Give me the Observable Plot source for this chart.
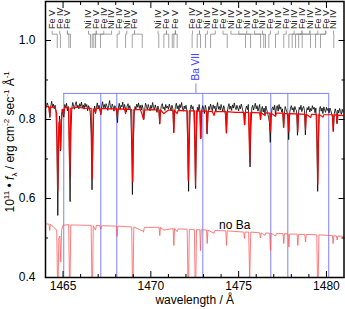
<!DOCTYPE html>
<html><head><meta charset="utf-8">
<script src="https://cdn.jsdelivr.net/npm/d3@7"></script>
<script src="https://cdn.jsdelivr.net/npm/@observablehq/plot@0.6"></script>
<style>body{margin:0;background:#fff} svg{display:block}</style>
</head><body><div id="chart"></div>
<script>
// observed spectrum, sampled every 0.05 Å from 1464.00 Å
const obsStart = 1464.0, obsStep = 0.05;
const obsFlux = [
0.838,0.831,0.842,0.835,0.829,0.805,0.833,0.846,0.832,0.839,0.827,0.836,0.818,0.742,0.557,0.728,0.809,0.720,0.781,0.826,
0.812,0.806,0.838,0.829,0.841,0.822,0.833,0.752,0.592,0.771,0.828,0.843,0.834,0.826,0.839,0.845,0.830,0.836,0.827,0.840,
0.833,0.844,0.829,0.837,0.826,0.841,0.832,0.838,0.822,0.835,0.829,0.817,0.764,0.622,0.748,0.821,0.834,0.815,0.831,0.842,
0.828,0.836,0.824,0.812,0.833,0.845,0.830,0.838,0.827,0.840,0.834,0.823,0.836,0.848,0.831,0.826,0.839,0.833,0.821,0.835,
0.830,0.818,0.792,0.829,0.841,0.826,0.836,0.832,0.844,0.825,0.838,0.829,0.819,0.834,0.840,0.827,0.835,0.822,0.751,0.610,
0.734,0.812,0.833,0.826,0.839,0.831,0.842,0.828,0.836,0.824,0.837,0.829,0.800,0.826,0.841,0.833,0.825,0.838,0.830,0.822,
0.836,0.828,0.843,0.831,0.824,0.837,0.829,0.818,0.834,0.826,0.789,0.821,0.835,0.840,0.827,0.832,0.823,0.838,0.829,0.834,
0.826,0.839,0.831,0.822,0.836,0.828,0.767,0.815,0.833,0.841,0.827,0.835,0.824,0.838,0.830,0.843,0.829,0.821,0.834,0.827,
0.836,0.823,0.742,0.618,0.763,0.829,0.837,0.826,0.833,0.818,0.752,0.625,0.761,0.831,0.822,0.838,0.820,0.752,0.824,0.835,
0.829,0.815,0.836,0.827,0.764,0.812,0.833,0.825,0.839,0.830,0.822,0.837,0.828,0.834,0.820,0.831,0.843,0.826,0.833,0.824,
0.838,0.829,0.821,0.835,0.827,0.810,0.766,0.818,0.832,0.840,0.826,0.834,0.823,0.837,0.829,0.842,0.831,0.825,0.836,0.828,
0.822,0.835,0.827,0.839,0.830,0.820,0.812,0.787,0.826,0.834,0.825,0.838,0.772,0.680,0.781,0.829,0.836,0.824,0.833,0.841,
0.827,0.835,0.821,0.830,0.838,0.800,0.826,0.833,0.819,0.829,0.812,0.834,0.825,0.817,0.806,0.793,0.742,0.803,0.827,0.832,
0.824,0.836,0.812,0.829,0.835,0.821,0.838,0.826,0.832,0.819,0.827,0.780,0.814,0.833,0.826,0.818,0.808,0.749,0.815,0.829,
0.835,0.824,0.830,0.818,0.833,0.826,0.822,0.760,0.812,0.831,0.825,0.836,0.820,0.829,0.833,0.823,0.761,0.816,0.830,0.824,
0.833,0.819,0.828,0.822,0.835,0.826,0.831,0.817,0.829,0.752,0.618,0.758,0.826,0.833,0.821,0.829,0.815,0.832,0.824,0.818,
0.831,0.823,0.828,0.816,0.829,0.822,0.814,0.806,0.770,0.815,0.827,0.819,0.790,0.824,0.816,0.828,0.820,0.813,0.826,0.818,
0.822];

// model with Ba
const modelWave = [1464.00,1464.20,1464.24,1464.28,1464.55,1464.64,1464.70,1464.76,1464.82,1464.87,1464.92,1465.00,1465.04,1465.08,1465.32,1465.38,1465.44,1465.80,1466.20,1466.60,1466.66,1466.72,1466.85,1466.90,1467.10,1467.15,1467.20,1467.60,1468.04,1468.08,1468.12,1468.50,1468.56,1468.60,1468.91,1468.97,1469.03,1469.40,1469.51,1469.58,1469.63,1470.00,1470.47,1470.51,1470.55,1470.74,1471.00,1471.27,1471.31,1471.35,1471.50,1471.55,1472.07,1472.13,1472.19,1472.48,1472.54,1472.60,1472.79,1472.83,1472.87,1473.17,1473.21,1473.25,1473.50,1473.60,1473.65,1474.27,1474.31,1474.35,1474.80,1475.29,1475.33,1475.37,1475.57,1475.63,1475.69,1476.20,1476.24,1476.28,1476.50,1476.55,1476.77,1476.81,1476.85,1477.10,1477.15,1477.53,1477.57,1477.61,1477.82,1477.86,1477.90,1478.33,1478.37,1478.41,1478.77,1478.81,1478.85,1479.10,1479.15,1479.45,1479.51,1479.57,1479.80,1479.85,1480.34,1480.38,1480.42,1480.57,1480.61,1480.65,1481.00];
const modelFlux = [0.833,0.832,0.808,0.832,0.830,0.815,0.620,0.790,0.800,0.724,0.815,0.826,0.815,0.830,0.830,0.654,0.828,0.831,0.829,0.828,0.650,0.827,0.818,0.829,0.828,0.815,0.828,0.827,0.827,0.810,0.827,0.826,0.815,0.826,0.825,0.643,0.825,0.825,0.812,0.800,0.824,0.825,0.824,0.789,0.824,0.815,0.824,0.823,0.767,0.823,0.815,0.823,0.822,0.646,0.822,0.822,0.633,0.822,0.821,0.752,0.821,0.821,0.764,0.821,0.820,0.810,0.820,0.820,0.766,0.820,0.818,0.818,0.787,0.818,0.818,0.692,0.818,0.817,0.800,0.817,0.810,0.817,0.816,0.770,0.816,0.808,0.816,0.816,0.780,0.815,0.815,0.770,0.815,0.814,0.770,0.814,0.813,0.775,0.813,0.805,0.813,0.813,0.637,0.813,0.806,0.812,0.812,0.770,0.812,0.811,0.790,0.811,0.810];

// model without Ba (shifted down)
const noBaWave = [1464.00,1464.20,1464.24,1464.28,1464.64,1464.70,1464.76,1464.82,1464.87,1464.92,1465.00,1465.32,1465.38,1465.44,1466.60,1466.66,1466.72,1466.85,1466.90,1467.10,1467.15,1467.20,1468.04,1468.08,1468.12,1468.91,1468.97,1469.03,1469.51,1469.58,1469.63,1470.47,1470.51,1470.55,1470.74,1471.27,1471.31,1471.35,1471.50,1471.55,1472.07,1472.13,1472.19,1472.48,1472.54,1472.60,1472.79,1472.83,1472.87,1473.17,1473.21,1473.25,1473.60,1473.65,1474.27,1474.31,1474.35,1475.29,1475.33,1475.37,1475.57,1475.63,1475.69,1476.20,1476.24,1476.28,1476.50,1476.55,1476.77,1476.81,1476.85,1477.10,1477.15,1477.53,1477.57,1477.61,1477.82,1477.86,1477.90,1478.33,1478.37,1478.41,1478.77,1478.81,1478.85,1479.45,1479.51,1479.57,1480.34,1480.38,1480.42,1480.57,1480.61,1480.65,1481.00];
const noBaFlux = [0.536,0.535,0.519,0.535,0.520,0.330,0.500,0.505,0.439,0.520,0.532,0.534,0.340,0.533,0.532,0.330,0.531,0.520,0.532,0.531,0.522,0.531,0.530,0.504,0.530,0.528,0.330,0.528,0.518,0.515,0.527,0.527,0.506,0.527,0.520,0.524,0.481,0.524,0.516,0.523,0.522,0.330,0.522,0.521,0.330,0.521,0.521,0.468,0.521,0.520,0.486,0.520,0.512,0.519,0.518,0.481,0.518,0.515,0.499,0.515,0.515,0.395,0.515,0.513,0.500,0.513,0.507,0.513,0.512,0.468,0.512,0.505,0.511,0.511,0.486,0.511,0.510,0.477,0.510,0.510,0.481,0.509,0.509,0.490,0.509,0.508,0.330,0.508,0.506,0.486,0.506,0.505,0.495,0.505,0.504];

// Ba VII lines
const baWave = [1465.04,1467.15,1468.06,1472.96,1476.83,1477.80,1480.13];
const baBracket = 0.866, baStemTop = 0.89, baLabelY = 0.899, baLabel = "Ba VII";

// line identifications
const idLabel = ["Fe V","Fe IV","Fe V","Ni IV","Fe V","Fe IV","Ni IV","Fe IV","Ni IV","Fe V","Ni IV","Fe V","Fe V","Fe IV","Fe V","Ni IV","Fe IV","Fe V","Ni IV","Fe V","Ni IV","Fe V","Ni IV","Fe V","Ni IV","Fe IV","Ni IV","Fe IV","Ni IV","Fe IV","Fe V","Ni IV"];
const idLabelWave = [1464.38,1464.81,1465.25,1466.45,1466.89,1467.32,1467.76,1468.20,1468.63,1469.07,1470.41,1470.89,1471.40,1472.37,1472.77,1473.22,1473.67,1474.11,1474.56,1475.01,1475.46,1475.91,1476.36,1476.81,1477.26,1477.71,1478.16,1478.61,1479.06,1479.51,1479.96,1480.40];
const idLineWave = [1464.67,1464.85,1465.33,1465.42,1466.56,1466.66,1466.75,1466.85,1467.13,1468.08,1468.56,1468.94,1469.51,1470.45,1470.74,1471.02,1471.22,1471.31,1471.50,1472.35,1472.64,1472.83,1473.11,1473.40,1474.35,1475.39,1475.68,1476.25,1476.43,1476.53,1476.72,1477.10,1477.57,1477.86,1478.05,1478.24,1478.42,1478.62,1479.09,1479.38,1479.66,1480.42];
const idLineOf = [0,1,2,2,3,4,4,5,6,7,8,9,9,10,11,11,12,12,12,13,14,14,15,16,17,18,19,20,21,22,23,24,25,26,27,27,28,28,29,30,30,31];
const idLabelY = 1.029, idStemY = 1.024, idJoinY = 1.016, idLineBottom = 0.982;

const noBaNote = {wave: 1474.78, flux: 0.532, text: "no Ba"};

const xMajor = [1465,1470,1475,1480];
const xMinor = [1466,1467,1468,1469,1471,1472,1473,1474,1476,1477,1478,1479];
const yMajor = [0.4,0.6,0.8,1.0];
const yMinor = [0.5,0.7,0.9];
const xTitle = "wavelength / Å";
const yTitleKey = "__ytitle__";

// tables
const obs = obsFlux.map((f,i)=>({w: obsStart + i*obsStep, f}));
const model = modelWave.map((w,i)=>({w, f: modelFlux[i]}));
const noBa = noBaWave.map((w,i)=>({w, f: noBaFlux[i]}));
const idPaths = [];
idLineWave.forEach((w,j)=>{
  const lx = idLabelWave[idLineOf[j]];
  idPaths.push({g:j, w: lx, f: idStemY},{g:j, w: lx, f: idJoinY},{g:j, w, f: idJoinY},{g:j, w, f: idLineBottom});
});
const idText = idLabel.map((t,i)=>({t, w: idLabelWave[i], f: idLabelY}));
const baMid = d3.mean(baWave);

const blue = "#8080ff";
const fontFamily = "'Liberation Sans', Arial, Helvetica, sans-serif";

const chart = Plot.plot({
  width: 345, height: 309,
  marginLeft: 45, marginRight: 1.5, marginTop: 1, marginBottom: 32,
  x: {domain: [1464, 1481], label: null},
  y: {domain: [0.4, 1.0987], label: null},
  style: {fontFamily, fontSize: "12px", background: "white", color: "black", overflow: "visible"},
  marks: [
    Plot.ruleX(baWave, {x: d=>d, y1: 0.4, y2: baBracket, stroke: blue, strokeWidth: 1, clip: true}),
    Plot.ruleY([baBracket], {y: d=>d, x1: d3.min(baWave), x2: d3.max(baWave), stroke: blue, strokeWidth: 1}),
    Plot.ruleX([baMid], {x: d=>d, y1: baBracket, y2: baStemTop, stroke: blue, strokeWidth: 1}),
    Plot.text([{w: baMid, f: baLabelY, t: baLabel}], {x:"w", y:"f", text:"t", rotate:-90, textAnchor:"start", lineAnchor:"middle", fill:"#3c3cff", fontSize: 10}),
    Plot.line(noBa, {x:"w", y:"f", stroke:"#ff5c5c", strokeWidth: 0.8, clip: true}),
    Plot.line(obs, {x:"w", y:"f", stroke:"black", strokeWidth: 0.8, clip: true}),
    Plot.line(model, {x:"w", y:"f", stroke:"#ff0000", strokeWidth: 1.2, clip: true}),
    Plot.line(idPaths, {x:"w", y:"f", z:"g", stroke:"#8c8c8c", strokeWidth: 0.8}),
    Plot.text(idText, {x:"w", y:"f", text:"t", rotate:-90, textAnchor:"start", lineAnchor:"middle", fill:"#222", fontSize: 9}),
    Plot.text([noBaNote], {x:"wave", y:"flux", text:"text", fontSize: 12, fill:"black"}),
    // ticks (inward, all sides)
    Plot.axisX({ticks: xMajor, anchor:"bottom", tickSize:-6, tickFormat: ()=>"", label:null}),
    Plot.axisX({ticks: xMinor, anchor:"bottom", tickSize:-3, tickFormat: ()=>"", label:null}),
    Plot.axisX({ticks: xMajor, anchor:"top", tickSize:-6, tickFormat: ()=>"", label:null}),
    Plot.axisX({ticks: xMinor, anchor:"top", tickSize:-3, tickFormat: ()=>"", label:null}),
    Plot.axisY({ticks: yMajor, anchor:"left", tickSize:-6, tickFormat: ()=>"", label:null}),
    Plot.axisY({ticks: yMinor, anchor:"left", tickSize:-3, tickFormat: ()=>"", label:null}),
    Plot.axisY({ticks: yMajor, anchor:"right", tickSize:-6, tickFormat: ()=>"", label:null}),
    Plot.axisY({ticks: yMinor, anchor:"right", tickSize:-3, tickFormat: ()=>"", label:null}),
    // tick labels
    Plot.axisX({ticks: xMajor, anchor:"bottom", tickSize:0, tickPadding:4, tickFormat: d3.format("d"), fontSize: 12, label:null}),
    Plot.axisY({ticks: yMajor, anchor:"left", tickSize:0, tickPadding:10, tickFormat: d3.format(".1f"), fontSize: 12, label:null}),
    Plot.frame({stroke:"black", strokeWidth: 1.5}),
    Plot.text([xTitle], {frameAnchor:"bottom", dy: 23, text: d=>d, fontSize: 12, lineAnchor:"middle"}),
    Plot.text([yTitleKey], {frameAnchor:"bottom-left", dx:-35, dy:-65, rotate:-90, textAnchor:"start", text: d=>d, fontSize: 12, lineAnchor:"middle"})
  ]
});
document.getElementById("chart").appendChild(chart);

// rich y-axis title with super/subscripts
const yParts = [["10",0,12],["11",-5,8],[" • ",0,12],["f",0,12,true],["λ",3,8],[" / erg cm",0,12],["-2",-5,8],[" sec",0,12],["-1",-5,8],[" Å",0,12],["-1",-5,8]];
d3.select(chart).selectAll("text").filter(function(){ return this.textContent === yTitleKey; }).each(function(){
  const yt = d3.select(this);
  yt.text(null);
  let prev = 0;
  for (const [s, shift, size, it] of yParts) {
    const ts = yt.append("tspan").text(s).attr("dy", shift - prev).style("font-size", size + "px");
    if (it) ts.style("font-style", "italic");
    prev = shift;
  }
});
</script></body></html>
